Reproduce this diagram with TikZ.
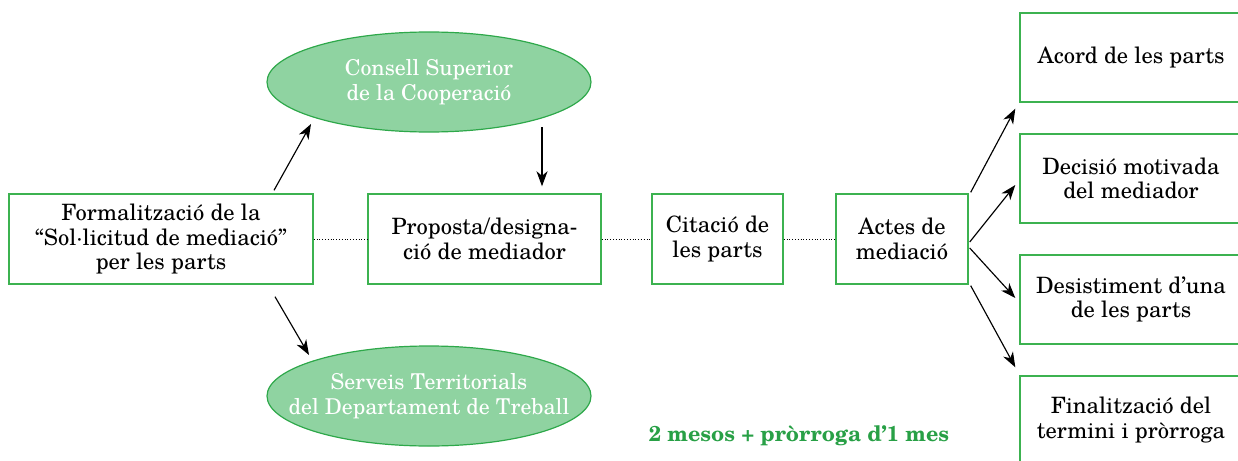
\documentclass[tikz,border=0pt]{standalone}
\usepackage{fontspec}
\setmainfont{TeX Gyre Schola}
\usetikzlibrary{shapes.geometric,arrows.meta,calc}
\definecolor{boxgreen}{RGB}{60,178,80}
\definecolor{ellfill}{RGB}{143,211,161}
\definecolor{elldraw}{RGB}{46,168,74}
\definecolor{txtgreen}{RGB}{40,160,70}
\begin{document}
\begin{tikzpicture}[x=1pt,y=-1pt,
  stepbox/.style={draw=boxgreen,line width=1.4pt,fill=white,align=center,inner sep=0pt,
    font=\fontsize{22.5}{24.5}\selectfont},
  ell/.style={ellipse,draw=elldraw,line width=1.2pt,fill=ellfill,inner sep=0pt,
    minimum width=324pt,minimum height=100pt},
  elltext/.style={align=center,text=white,inner sep=0pt,font=\fontsize{21.8}{24.5}\selectfont},
  arr/.style={-{Stealth[length=15pt,width=11pt,inset=4.5pt]},line width=1.15pt},
  dots/.style={dotted,line width=0.8pt}]
\useasboundingbox (0,0) rectangle (1238,460);
\node[stepbox,minimum width=304pt,minimum height=90pt] (b1) at (161,239)
  {Formalització de la\\“Sol·licitud de mediació”\\per les parts};
\node[stepbox,minimum width=233pt,minimum height=90pt] (b2) at (484.5,239)
  {Proposta/designa-\\ció de mediador};
\node[stepbox,minimum width=131pt,minimum height=90pt] (b3) at (717.5,239)
  {Citació de\\les parts};
\node[stepbox,minimum width=132pt,minimum height=90pt] (b4) at (902,239)
  {Actes de\\mediació};
\node[stepbox,minimum width=222pt,minimum height=89pt] (rA) at (1131,57.5) {Acord de les parts};
\node[stepbox,minimum width=222pt,minimum height=89pt] (rB) at (1131,178.5) {Decisió motivada\\del mediador};
\node[stepbox,minimum width=222pt,minimum height=89pt] (rC) at (1131,299.5) {Desistiment d’una\\de les parts};
\node[stepbox,minimum width=222pt,minimum height=88pt] (rD) at (1131,420) {Finalització del\\termini i pròrroga};
\node[ell] (e1) at (429,82) {};
\node[elltext] (t1) at (e1.center) {Consell Superior\\de la Cooperació};
\node[ell] (e2) at (429,396) {};
\node[elltext] (t2) at (e2.center) {Serveis Territorials\\del Departament de Treball};
\node[text=txtgreen,font=\fontsize{21.5}{24}\selectfont\bfseries] (note) at (799,436) {2 mesos + pròrroga d’1 mes};
\draw[dots] (b1.east) -- (b2.west);
\draw[dots] (b2.east) -- (b3.west);
\draw[dots] (b3.east) -- (b4.west);
\draw[arr] ($(b1.north)+(113,-3)$) -- ($(e1.center)+(-118,42)$);
\draw[arr] ($(e1.center)+(113,45)$) -- ($(b2.north)+(57.5,-7)$);
\draw[arr] ($(b1.south)+(114,12)$) -- ($(e2.center)+(-120,-41)$);
\draw[arr] ($(b4.north east)+(2,-1)$) -- ($(rA.south west)+(-4,6)$);
\draw[arr] ($(b4.east)+(1,3)$) -- ($(rB.west)+(-4,6.5)$);
\draw[arr] ($(b4.east)+(1,9)$) -- ($(rC.west)+(-4,-1.5)$);
\draw[arr] ($(b4.south east)+(2,1)$) -- ($(rD.north west)+(-4,-8)$);
\end{tikzpicture}
\end{document}
